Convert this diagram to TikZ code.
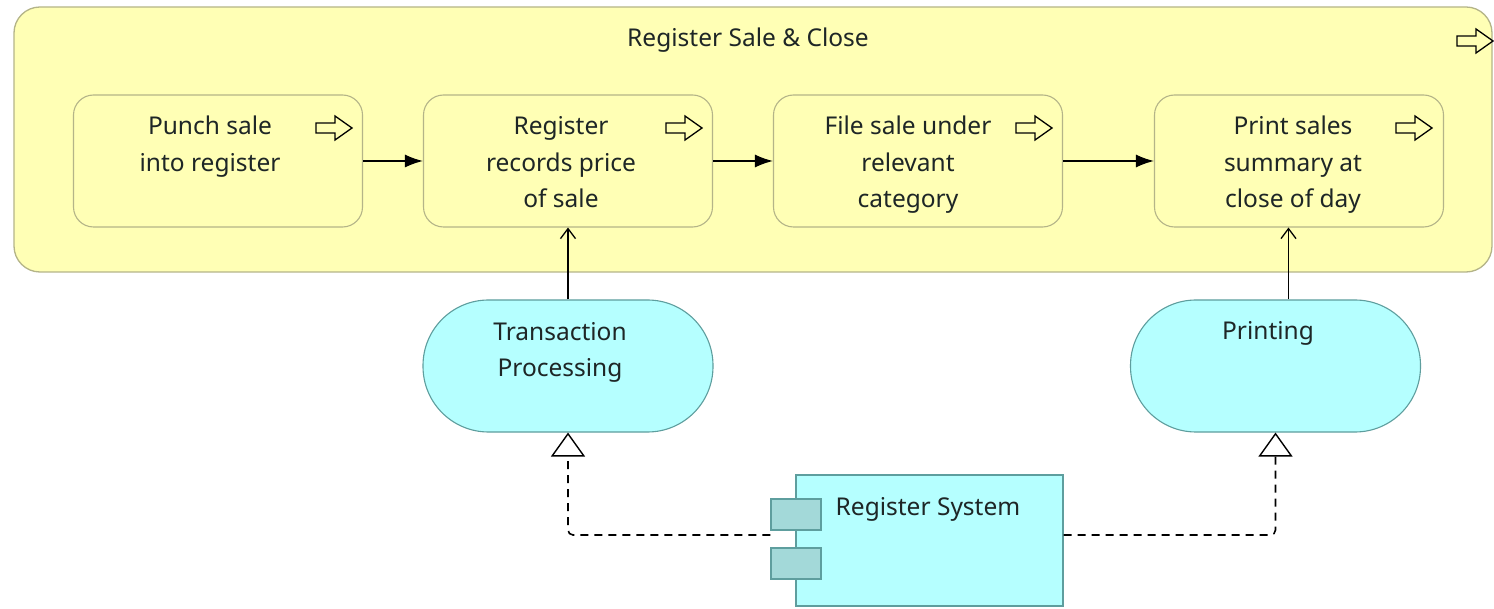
\documentclass[tikz,border=0pt]{standalone}
\usepackage{fontspec}
\setmainfont{Noto Sans}
\usetikzlibrary{arrows.meta}
\definecolor{bizfill}{HTML}{FFFFB5}
\definecolor{bizline}{HTML}{B4B488}
\definecolor{appfill}{HTML}{B5FFFF}
\definecolor{appline}{HTML}{5E9E9E}
\definecolor{portfill}{HTML}{A3D9D9}
\definecolor{inktext}{HTML}{1E2626}
\begin{document}
\begin{tikzpicture}[x=1pt,y=-1pt,
  container/.style={draw=bizline, fill=bizfill, line width=1.3pt, rounded corners=26pt,
    minimum width=1478pt, minimum height=265pt, inner sep=0pt},
  procbox/.style={draw=bizline, fill=bizfill, line width=1.1pt, rounded corners=20pt,
    minimum width=289pt, minimum height=132pt, inner sep=0pt},
  service/.style={draw=appline, fill=appfill, line width=1.1pt, rounded corners=65.5pt,
    minimum width=290pt, minimum height=132pt, inner sep=0pt},
  compbox/.style={draw=appline, fill=appfill, line width=1.1pt,
    minimum width=267pt, minimum height=131pt, inner sep=0pt},
  port/.style={draw=appline, fill=portfill, line width=1.1pt,
    minimum width=50pt, minimum height=31pt, inner sep=0pt},
  % anchor=base of a multi-line node sits on its last line
  txt/.style={font=\fontsize{24.5}{36.5}\selectfont, text=inktext, align=center, inner sep=0pt, anchor=base},
  trig/.style={draw=black, line width=1.5pt, -{Latex[length=18pt,width=13pt]}},
  serv/.style={draw=black, line width=1.5pt, -{Straight Barb[length=10pt,width=15pt,line width=1.3pt]}},
  realz/.style={draw=black, line width=1.6pt, dash pattern=on 8pt off 6pt, rounded corners=5pt,
    -{Triangle[open,length=24pt,width=34pt,fill=white,line width=1.4pt]}},
  procicon/.pic={\draw[line width=1.3pt, line join=miter]
    (-18,-5) -- (1,-5) -- (1,-12) -- (18,0) -- (1,12) -- (1,5) -- (-18,5) -- cycle;}
]
\useasboundingbox (0,0) rectangle (1494,609);
\fill[white] (0,0) rectangle (1494,609);

% business process container
\node[container] (outer) at (753,139.5) {};
\node[txt] (outert) at (748,47) {Register Sale \& Close};
\pic at (1475,41) {procicon};

% sub-processes
\node[procbox] (b1) at (218,161) {};
\node[procbox] (b2) at (568,161) {};
\node[procbox] (b3) at (918,161) {};
\node[procbox] (b4) at (1299,161) {};

\node[txt] (b1t) at (210,171.5) {Punch sale\\into register};
\node[txt] (b2t) at (561,208) {Register\\records price\\of sale};
\node[txt] (b3t) at (908,208) {File sale under\\relevant\\category};
\node[txt] (b4t) at (1293,208) {Print sales\\summary at\\close of day};

\pic at (334,128) {procicon};
\pic at (684,128) {procicon};
\pic at (1034,128) {procicon};
\pic at (1414,128) {procicon};

% triggering flow
\draw[trig] (b1.east) -- (b2.west);
\draw[trig] (b2.east) -- (b3.west);
\draw[trig] (b3.east) -- (b4.west);

% application services
\node[service] (tp) at (568,366) {};
\node[txt] (tpt) at (560,377) {Transaction\\Processing};
\node[service] (pr) at (1275.5,366) {};
\node[txt] (prt) at (1268,340) {Printing};

\coordinate (prtop) at ([xshift=13pt]pr.north);
\draw[serv] (tp.north) -- (tp.north |- b2.south);
\draw[serv] (prtop) -- (prtop |- b4.south);

% application component
\node[compbox] (rs) at (929.5,540.5) {};
\node[port] (sq1) at (796,514.5) {};
\node[port] (sq2) at (796,563.5) {};
\node[txt] (rst) at (928,515) {Register System};

% realization links
\coordinate (lj) at ([yshift=5.5pt]rs.west);
\coordinate (rj) at ([yshift=5.5pt]rs.east);
\draw[realz] (lj -| sq1.west) -| (tp.south);
\draw[realz] (rj) -| (pr.south);
\end{tikzpicture}
\end{document}
